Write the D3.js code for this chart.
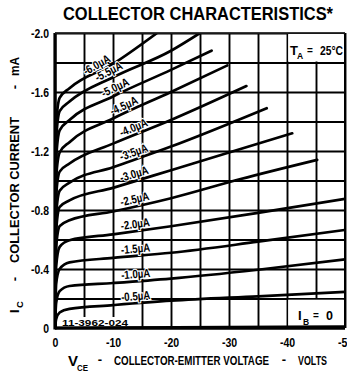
<!DOCTYPE html>
<html><head><meta charset="utf-8">
<script src="https://cdn.jsdelivr.net/npm/d3@7"></script>
<style>
html,body{margin:0;padding:0;background:#fff;}
svg{display:block;}
text{font-family:"Liberation Sans",Arial,"DejaVu Sans",sans-serif;font-weight:bold;fill:#000;}
</style></head><body>
<svg id="c" width="347" height="375"></svg>
<script>
// ---- data (VCE volts, IC mA) ----
const baseLabels = ["-0.5µA","-1.0µA","-1.5µA","-2.0µA","-2.5µA","-3.0µA","-3.5µA","-4.0µA","-4.5µA","-5.0µA","-5.5µA","-6.0µA"];
const ib00 = [[0,0],[-10,-0.003],[-30,-0.006],[-50,-0.01]];
const ib05 = [[0,0],[-0.2,-0.06],[-0.8,-0.105],[-2.5,-0.13],[-10,-0.155],[-20,-0.185],[-35,-0.215],[-50,-0.245]];
const ib10 = [[0,0],[-0.2,-0.17],[-0.8,-0.25],[-2.5,-0.285],[-10,-0.305],[-20,-0.335],[-35,-0.395],[-50,-0.465]];
const ib15 = [[0,0],[-0.2,-0.3],[-0.8,-0.4],[-2.5,-0.445],[-10,-0.475],[-20,-0.51],[-35,-0.585],[-50,-0.665]];
const ib20 = [[0,0],[-0.2,-0.42],[-0.8,-0.55],[-2.5,-0.595],[-10,-0.635],[-20,-0.69],[-35,-0.78],[-50,-0.875]];
const ib25 = [[0,0],[-0.2,-0.55],[-0.8,-0.69],[-2.5,-0.73],[-10,-0.79],[-20,-0.88],[-32,-1.01],[-45.2,-1.14]];
const ib30 = [[0,0],[-0.2,-0.66],[-0.8,-0.82],[-2.5,-0.865],[-10,-0.95],[-20,-1.07],[-30,-1.19],[-40.9,-1.32]];
const ib35 = [[0,0],[-0.2,-0.77],[-0.8,-0.93],[-2.5,-0.985],[-10,-1.09],[-20,-1.23],[-36.5,-1.49]];
const ib40 = [[0,0],[-0.2,-0.9],[-0.8,-1.06],[-2.5,-1.115],[-10,-1.25],[-20,-1.41],[-33,-1.64]];
const ib45 = [[0,0],[-0.2,-1.02],[-0.8,-1.19],[-2.5,-1.26],[-10,-1.42],[-20,-1.6],[-29.7,-1.78]];
const ib50 = [[0,0],[-0.2,-1.15],[-0.8,-1.34],[-2.5,-1.41],[-10,-1.57],[-20,-1.75],[-27,-1.88]];
const ib55 = [[0,0],[-0.2,-1.28],[-0.8,-1.47],[-2.5,-1.535],[-10,-1.7],[-20,-1.88],[-25,-2.0]];
const ib60 = [[0,0],[-0.2,-1.38],[-0.8,-1.56],[-2.5,-1.625],[-10,-1.79],[-17.6,-2.0]];
const yTickValues = [0,-0.4,-0.8,-1.2,-1.6,-2.0];
const xTickValues = [0,-10,-20,-30,-40,-50];

const curves = [ib05,ib10,ib15,ib20,ib25,ib30,ib35,ib40,ib45,ib50,ib55,ib60];

// ---- layout ----
const L=55,R=345,T=33,B=328;
const svg = d3.select("#c");
const x = d3.scaleLinear().domain([0,-50]).range([L,R]);
const y = d3.scaleLinear().domain([0,-2]).range([B,T]);

function condense(sel, f){
  sel.each(function(){
    const w=this.getComputedTextLength();
    d3.select(this).attr("textLength",w*f).attr("lengthAdjust","spacingAndGlyphs");
  });
}

// title
svg.append("text").attr("x",63).attr("y",20).attr("font-size",18)
  .attr("textLength",270).attr("lengthAdjust","spacingAndGlyphs")
  .text("COLLECTOR CHARACTERISTICS*");

// grid
const gx = svg.append("g").attr("transform",`translate(0,${B})`)
  .call(d3.axisBottom(x).tickValues(d3.range(0,-51,-5)).tickSize(-(B-T)).tickFormat(""));
gx.select(".domain").remove();
gx.selectAll("line").attr("stroke","#000").attr("stroke-width",1.9);
const gy = svg.append("g").attr("transform",`translate(${L},0)`)
  .call(d3.axisLeft(y).tickValues(d3.range(0,-2.01,-0.2)).tickSize(-(R-L)).tickFormat(""));
gy.select(".domain").remove();
gy.selectAll("line").attr("stroke","#000").attr("stroke-width",1.9);

// white boxes for annotations
svg.append("rect").attr("x",x(-40)+1.2).attr("y",y(-2)+1)
  .attr("width",x(-50)-x(-40)-2.4).attr("height",y(-1.8)-y(-2)-2).attr("fill","#fff");
svg.append("rect").attr("x",x(-40)+1.2).attr("y",y(-0.2)+1.2)
  .attr("width",x(-50)-x(-40)-2.4).attr("height",y(0)-y(-0.2)-2.4).attr("fill","#fff");
svg.append("rect").attr("x",61).attr("y",317).attr("width",72).attr("height",10).attr("fill","#fff");

// curves
svg.append("clipPath").attr("id","clip").append("rect")
  .attr("x",L).attr("y",T).attr("width",R-L).attr("height",B-T);
const line = d3.line().x(d=>x(d[0])).y(d=>y(d[1])).curve(d3.curveMonotoneX);
const cg = svg.append("g").attr("clip-path","url(#clip)");
cg.selectAll("path.c").data(curves.concat([ib00])).join("path")
  .attr("d",line).attr("fill","none").attr("stroke","#000").attr("stroke-width",2.7)
  .attr("stroke-linejoin","round").attr("stroke-linecap","round");

// frame
svg.append("line").attr("x1",L).attr("x2",L).attr("y1",T).attr("y2",B+1.5).attr("stroke","#000").attr("stroke-width",3.2);
svg.append("line").attr("x1",L).attr("x2",R).attr("y1",B).attr("y2",B).attr("stroke","#000").attr("stroke-width",3.2);
svg.append("line").attr("x1",R).attr("x2",R).attr("y1",T).attr("y2",B).attr("stroke","#000").attr("stroke-width",2);
svg.append("line").attr("x1",L).attr("x2",R).attr("y1",T).attr("y2",T).attr("stroke","#222").attr("stroke-width",1.3);

// tick labels
const ay = svg.append("g").attr("transform",`translate(${L},0)`)
  .call(d3.axisLeft(y).tickValues(yTickValues).tickSize(0).tickPadding(6)
  .tickFormat(d=>d===0?"0":d.toFixed(1)));
ay.select(".domain").remove();
ay.selectAll("text").attr("font-size",13).attr("font-family",null).attr("font-weight","bold").attr("fill","#000").call(condense,0.8);
const ax = svg.append("g").attr("transform",`translate(0,${B})`)
  .call(d3.axisBottom(x).tickValues(xTickValues).tickSize(0).tickPadding(9)
  .tickFormat(d=>d===0?"0":String(d)));
ax.select(".domain").remove();
ax.selectAll("text").attr("font-size",13.5).attr("font-family",null).attr("font-weight","bold").attr("fill","#000").call(condense,0.78);

// curve labels
const labelV = [-14,-14,-14,-14,-14,-14,-14,-14,-12.4,-10.9,-9.8,-7.8];
function interp(c,v){
  for(let i=1;i<c.length;i++){
    if(v>=c[i][0]){const a=c[i-1],b=c[i];const t=(v-a[0])/(b[0]-a[0]);return a[1]+t*(b[1]-a[1]);}
  }
  return c[c.length-1][1];
}
curves.forEach((c,i)=>{
  const v=labelV[i];
  const px=x(v), py=y(interp(c,v));
  const dx=x(v-2)-x(v+2), dy=y(interp(c,v-2))-y(interp(c,v+2));
  const ang=Math.atan2(dy,dx)*180/Math.PI;
  const t=svg.append("text").attr("transform",`translate(${px},${py}) rotate(${ang})`)
    .attr("x",0).attr("y",-3.2).attr("text-anchor","middle").attr("font-size",11.8)
    .attr("stroke","#fff").attr("stroke-width",2.2).attr("paint-order","stroke")
    .text(baseLabels[i]);
  condense(t,0.82);
});

// annotations
svg.append("text").attr("x",290).attr("y",55).attr("font-size",13).text("T");
svg.append("text").attr("x",297).attr("y",59).attr("font-size",8.5).text("A");
svg.append("text").attr("x",310).attr("y",54).attr("font-size",10).attr("text-anchor","middle").text("=");
svg.append("text").attr("x",320).attr("y",55).attr("font-size",12.5).attr("textLength",23).attr("lengthAdjust","spacingAndGlyphs").text("25°C");

svg.append("text").attr("x",298).attr("y",320).attr("font-size",13).text("I");
svg.append("text").attr("x",303).attr("y",325).attr("font-size",8.5).text("B");
svg.append("text").attr("x",316).attr("y",319).attr("font-size",10).attr("text-anchor","middle").text("=");
svg.append("text").attr("x",326).attr("y",320).attr("font-size",12.5).text("0");

svg.append("text").attr("x",62).attr("y",326).attr("font-size",8.5).attr("textLength",66).attr("lengthAdjust","spacingAndGlyphs").text("11-3962-024");

// x axis title
svg.append("text").attr("x",68).attr("y",366).attr("font-size",15).text("V");
svg.append("text").attr("x",77).attr("y",371).attr("font-size",9.5).attr("textLength",11).attr("lengthAdjust","spacingAndGlyphs").text("CE");
svg.append("text").attr("x",100).attr("y",364).attr("font-size",13).attr("text-anchor","middle").text("-");
svg.append("text").attr("x",114).attr("y",365).attr("font-size",12.5).attr("textLength",155).attr("lengthAdjust","spacingAndGlyphs").text("COLLECTOR-EMITTER VOLTAGE");
svg.append("text").attr("x",284).attr("y",364).attr("font-size",13).attr("text-anchor","middle").text("-");
svg.append("text").attr("x",298).attr("y",365).attr("font-size",12.5).attr("textLength",29).attr("lengthAdjust","spacingAndGlyphs").text("VOLTS");

// y axis title
const yt = svg.append("g").attr("transform","translate(19,0) rotate(-90)");
yt.append("text").attr("x",-313).attr("y",0).attr("font-size",13).text("I");
yt.append("text").attr("x",-308).attr("y",4).attr("font-size",9.5).text("C");
yt.append("text").attr("x",-279).attr("y",0).attr("font-size",13).attr("text-anchor","middle").text("-");
yt.append("text").attr("x",-263).attr("y",0).attr("font-size",12.5).attr("textLength",146).attr("lengthAdjust","spacingAndGlyphs").text("COLLECTOR CURRENT");
yt.append("text").attr("x",-87).attr("y",0).attr("font-size",13).attr("text-anchor","middle").text("-");
yt.append("text").attr("x",-76).attr("y",0).attr("font-size",12.5).attr("textLength",19).attr("lengthAdjust","spacingAndGlyphs").text("mA");
</script>
</body></html>
